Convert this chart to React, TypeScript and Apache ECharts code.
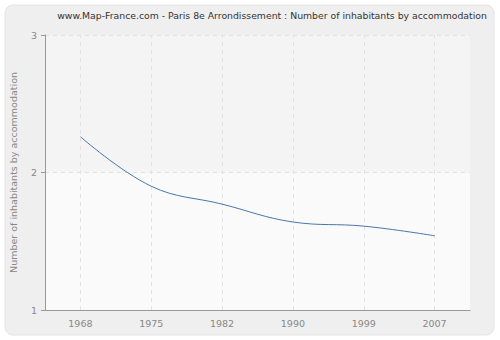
import React, { useEffect, useRef } from "react";
import * as echarts from "echarts";

const categories = ["1968", "1975", "1982", "1990", "1999", "2007"];
const values = [2.26, 1.9, 1.77, 1.64, 1.61, 1.54];
const yTicks = [1, 2, 3];

export default function App() {
  const ref = useRef<HTMLDivElement>(null);
  useEffect(() => {
    document.body.style.margin = "0";
    if (!ref.current) return;
    const chart = echarts.init(ref.current, null, { renderer: "svg" });
    chart.setOption({
      animation: false,
      backgroundColor: "#ffffff",
      graphic: [
        {
          type: "rect",
          shape: { x: 5, y: 5, width: 489, height: 330, r: 8 },
          style: { fill: "#efefef", stroke: "#e4e4e4", lineWidth: 1 },
          z: -10,
        },
      ],
      title: {
        text: "www.Map-France.com - Paris 8e Arrondissement : Number of inhabitants by accommodation",
        left: 267,
        top: 6,
        textAlign: "center",
        textStyle: {
          fontFamily: "DejaVu Sans",
          fontSize: 9.3,
          fontWeight: "normal",
          color: "#333",
        },
      },
      grid: {
        left: 40,
        right: 30,
        top: 35,
        bottom: 30,
        show: true,
        backgroundColor: "#f8f8f9",
        borderWidth: 0,
      },
      xAxis: {
        type: "category",
        data: categories,
        boundaryGap: true,
        axisLine: { lineStyle: { color: "#999" } },
        axisTick: { alignWithLabel: true, length: 4, lineStyle: { color: "#999" } },
        axisLabel: { color: "#888", fontFamily: "DejaVu Sans", fontSize: 9.5, margin: 8 },
        splitLine: { show: false },
      },
      yAxis: {
        type: "value",
        min: yTicks[0],
        max: yTicks[yTicks.length - 1],
        interval: 1,
        name: "Number of inhabitants by accommodation",
        nameLocation: "middle",
        nameGap: 27,
        nameTextStyle: { color: "#888", fontFamily: "DejaVu Sans", fontSize: 9.5 },
        axisLine: { show: true, lineStyle: { color: "#999" } },
        axisTick: { show: true, length: 4, lineStyle: { color: "#999" } },
        axisLabel: { color: "#888", fontFamily: "DejaVu Sans", fontSize: 9.5, margin: 8 },
        splitLine: { show: true, lineStyle: { color: "#e2e2e2", type: [4, 4] } },
        splitArea: { show: true, areaStyle: { color: ["#fafafb", "#f4f4f5"] } },
      },
      series: [
        {
          type: "line",
          data: values,
          smooth: 0.4,
          symbol: "none",
          lineStyle: { color: "#4a76aa", width: 1 },
          markLine: {
            silent: true,
            symbol: "none",
            label: { show: false },
            lineStyle: { color: "#e2e2e2", type: [4, 4], width: 1 },
            data: categories.map((c) => ({ xAxis: c })),
            z: 1,
          },
        },
      ],
    });
    return () => chart.dispose();
  }, []);
  return <div ref={ref} style={{ width: 500, height: 340 }} />;
}
